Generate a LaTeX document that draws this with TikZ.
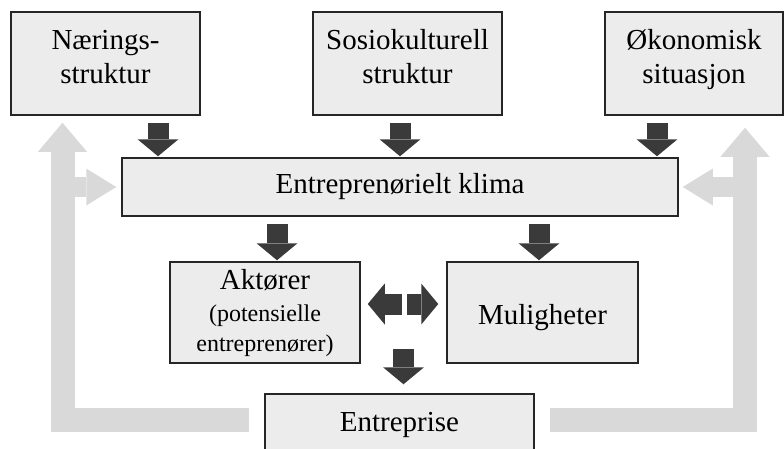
\documentclass[tikz,border=0pt]{standalone}
\usepackage{fontspec}
\setmainfont{Liberation Serif}
\usetikzlibrary{arrows.meta}
\usetikzlibrary{calc}
\usetikzlibrary{positioning}
\definecolor{boxgray}{HTML}{ECECEC}
\definecolor{darkarr}{HTML}{3A3A3A}
\definecolor{lightarr}{HTML}{D9D9D9}
\newcommand{\smalltxt}{\fontsize{24}{28}\selectfont}

\begin{document}
\begin{tikzpicture}[x=1pt,y=-1pt,
  box/.style={draw=black!85,line width=1.5pt,fill=boxgray,align=center,inner sep=0pt,font=\rmfamily\fontsize{29}{34}\selectfont},
  topbox/.style={box,minimum height=103,text depth=14pt},
  darrow/.style={draw=darkarr,line width=21pt,-{Triangle[length=17pt,width=41pt,line width=0pt]}},
  garrow/.style={draw=lightarr,line width=24pt,line join=miter,-{Triangle[length=29pt,width=49pt,line width=0pt]}},
  gbranch/.style={draw=lightarr,line width=20pt,-{Triangle[length=30pt,width=37pt,line width=0pt]}}]
\useasboundingbox (0,0) rectangle (784,448);
\node[topbox,minimum width=189] (naer) at (105.5,63.5) {Nærings-\\struktur};
\node[topbox,minimum width=189] (sosio) at (407.5,63.5) {Sosiokulturell\\struktur};
\node[topbox,minimum width=178] (oek) at (694,63.5) {Økonomisk\\situasjon};
\node[box,minimum width=556,minimum height=58] (klima) at (400,187) {Entreprenørielt klima};
\node[box,minimum width=190,minimum height=101] (akt) at (265,312.5) {Aktører\\[-2pt]\smalltxt(potensielle\\[-4pt]\smalltxt entreprenører)};
\node[box,minimum width=191,minimum height=101,text height=30pt] (mul) at (542.5,312.5) {Muligheter};
\node[box,minimum width=269,minimum height=62] (ent) at (399.5,425) {Entreprise};

\draw[garrow] ($(ent.west)+(-15,-5)$) -| ($(naer.south)+(-43,7)$);
\draw[garrow] ($(ent.east)+(15,-5)$) -| ($(oek.south)+(51,12)$);
\draw[gbranch] ($(klima.west)+(-59.5,0)$) -- ($(klima.west)+(-5,0)$);
\draw[gbranch] ($(klima.east)+(67,0)$) -- ($(klima.east)+(4,0)$);

\draw[darrow] ($(naer.south)+(52.5,7)$) -- ($(naer.south |- klima.north)+(52.5,-1)$);
\draw[darrow] ($(sosio.south)+(-7.5,7)$) -- ($(sosio.south |- klima.north)+(-7.5,-1)$);
\draw[darrow] ($(oek.south)+(-37,7)$) -- ($(oek.south |- klima.north)+(-37,-1)$);
\draw[darrow] ($(akt.north |- klima.south)+(12,7)$) -- ($(akt.north)+(12,-1)$);
\draw[darrow] ($(mul.north |- klima.south)+(-3.5,7)$) -- ($(mul.north)+(-3.5,-1)$);
\draw[darrow] ($(akt.east)+(41,-8.5)$) -- ($(akt.east)+(7,-8.5)$);
\draw[darrow] ($(mul.west)+(-39,-8.5)$) -- ($(mul.west)+(-8,-8.5)$);
\draw[darrow] ($(ent.north)+(4,-44)$) -- ($(ent.north)+(4,-9)$);
\end{tikzpicture}
\end{document}
